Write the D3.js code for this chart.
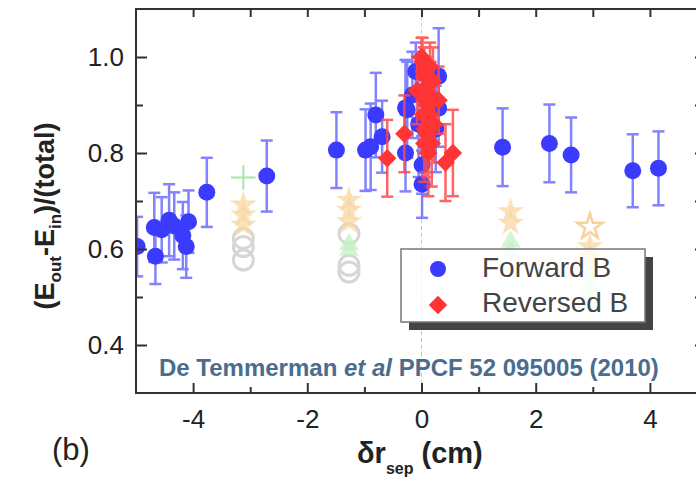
<!DOCTYPE html>
<html>
<head>
<meta charset="utf-8">
<script src="https://cdn.jsdelivr.net/npm/d3@7"></script>
<style>
  body { margin: 0; background: #fff; }
  svg { display: block; font-family: Arial, "Liberation Sans", sans-serif; }
</style>
</head>
<body>
<svg id="chart" width="696" height="484"></svg>
<script>
// forward B: [x, y, error]
const forwardB = [
  [-4.98, 0.605, 0.062], [-4.68, 0.645, 0.072], [-4.66, 0.585, 0.058],
  [-4.55, 0.64, 0.068], [-4.42, 0.66, 0.075], [-4.33, 0.648, 0.07],
  [-4.18, 0.628, 0.07], [-4.12, 0.605, 0.065], [-4.08, 0.657, 0.065],
  [-3.76, 0.718, 0.072], [-2.71, 0.752, 0.074], [-1.49, 0.806, 0.079],
  [-0.98, 0.806, 0.085], [-0.89, 0.813, 0.09], [-0.80, 0.879, 0.088], [-0.69, 0.834, 0.075],
  [-0.28, 0.894, 0.10], [-0.25, 0.89, 0.10], [-0.16, 0.921, 0.09], [-0.28, 0.80, 0.08],
  [-0.05, 0.86, 0.11], [-0.10, 0.97, 0.06], [0.01, 0.775, 0.06], [0.01, 0.735, 0.07],
  [0.30, 0.96, 0.10], [0.30, 0.893, 0.08], [0.25, 0.85, 0.09],
  [1.42, 0.812, 0.081], [2.24, 0.820, 0.081], [2.62, 0.796, 0.078],
  [3.70, 0.763, 0.076], [4.15, 0.768, 0.077]
];
// reversed B: [x, y, error]
const reversedB = [
  [-0.60, 0.789, 0.080], [-0.30, 0.84, 0.08], [0.02, 0.99, 0.05], [0.05, 0.96, 0.06],
  [0.08, 0.93, 0.07], [0.10, 0.90, 0.08], [0.12, 0.87, 0.08], [0.06, 0.85, 0.09],
  [0.15, 0.98, 0.05], [0.18, 0.82, 0.09], [0.20, 0.95, 0.07], [0.30, 0.91, 0.07],
  [0.00, 1.00, 0.04], [0.04, 0.97, 0.05], [0.10, 0.94, 0.06], [0.07, 0.91, 0.07],
  [0.14, 0.88, 0.08], [0.09, 0.84, 0.09], [0.05, 0.82, 0.08], [0.12, 0.80, 0.09],
  [0.16, 0.92, 0.07], [0.03, 0.88, 0.08], [-0.08, 0.93, 0.07], [0.22, 0.86, 0.08],
  [0.42, 0.78, 0.08], [0.55, 0.80, 0.09]
];
// faded background series
const ghostCircles = [[-3.12, 0.622], [-3.12, 0.605], [-3.12, 0.577], [-1.27, 0.632], [-1.27, 0.566], [-1.27, 0.552]];
const ghostStars = [[-3.12, 0.692], [-3.12, 0.671], [-3.12, 0.65], [-1.27, 0.702], [-1.27, 0.681], [-1.27, 0.657],
  [1.56, 0.678], [1.56, 0.654], [2.95, 0.605], [2.95, 0.584]];
const ghostOpenStars = [[2.95, 0.646]];
const ghostPlus = [[-3.12, 0.749]];
const ghostGreen = [[-1.27, 0.61], [-1.27, 0.598], [1.56, 0.615], [1.56, 0.595], [2.95, 0.545], [2.95, 0.52], [2.95, 0.49]];

const xMajor = [-4, -2, 0, 2, 4];
const xMinor = [-3, -1, 1, 3];
const yMajor = [0.4, 0.6, 0.8, 1.0];
const yMinor = [0.5, 0.7, 0.9];
const legendItems = ['Forward B', 'Reversed B'];

(function () {
  const svg = d3.select('#chart');
  const left = 136, right = 707, plotTop = 9, bottom = 393;

  const x = d3.scaleLinear().domain([-5, 5]).range([left, right]);
  const y = d3.scaleLinear().domain([0.3, 1.1]).range([bottom, plotTop]);

  const BLUE = '#3b3bff';
  const RED = '#ff3535';

  svg.append('defs').append('clipPath').attr('id', 'plotClip')
    .append('rect').attr('x', left).attr('y', plotTop).attr('width', right - left).attr('height', bottom - plotTop);

  const plot = svg.append('g').attr('clip-path', 'url(#plotClip)');

  // zero line
  plot.append('line')
    .attr('x1', x(0)).attr('x2', x(0)).attr('y1', plotTop).attr('y2', bottom)
    .attr('stroke', '#c8c8c8').attr('stroke-width', 1).attr('stroke-dasharray', '4,3');

  // ghost series
  plot.selectAll('.gc').data(ghostCircles).join('circle')
    .attr('cx', d => x(d[0])).attr('cy', d => y(d[1])).attr('r', 10)
    .attr('fill', 'none').attr('stroke', '#d6d6d6').attr('stroke-width', 3);
  const star = d3.symbol().type(d3.symbolStar).size(220);
  plot.selectAll('.gs').data(ghostStars).join('path')
    .attr('d', star).attr('transform', d => `translate(${x(d[0])},${y(d[1])})`)
    .attr('fill', '#f8d7a2').attr('opacity', 0.75);
  plot.selectAll('.gos').data(ghostOpenStars).join('path')
    .attr('d', d3.symbol().type(d3.symbolStar).size(200)).attr('transform', d => `translate(${x(d[0])},${y(d[1])})`)
    .attr('fill', 'none').attr('stroke', '#f6d39a').attr('stroke-width', 2.5);
  plot.selectAll('.gp').data(ghostPlus).join('path')
    .attr('d', d3.symbol().type(d3.symbolPlus).size(200)).attr('transform', d => `translate(${x(d[0])},${y(d[1])})`)
    .attr('fill', 'none').attr('stroke', '#a8e6a8').attr('stroke-width', 2);
  plot.selectAll('.gg').data(ghostGreen).join('path')
    .attr('d', d3.symbol().type(d3.symbolTriangle).size(170)).attr('transform', d => `translate(${x(d[0])},${y(d[1])})`)
    .attr('fill', '#c2efc2').attr('opacity', 0.7);

  function errorBars (data, color, opacity) {
    const g = plot.append('g').attr('stroke', color).attr('stroke-width', 2.5).attr('opacity', opacity);
    g.selectAll('line.v').data(data).join('line')
      .attr('x1', d => x(d[0])).attr('x2', d => x(d[0]))
      .attr('y1', d => y(d[1] - d[2])).attr('y2', d => y(d[1] + d[2]));
    [-1, 1].forEach(function (s) {
      g.selectAll('line.c' + (s + 1)).data(data).join('line')
        .attr('class', 'c' + (s + 1))
        .attr('x1', d => x(d[0]) - 6).attr('x2', d => x(d[0]) + 6)
        .attr('y1', d => y(d[1] + s * d[2])).attr('y2', d => y(d[1] + s * d[2]));
    });
  }

  errorBars(forwardB, '#5a5aff', 0.75);
  plot.selectAll('.fb').data(forwardB).join('circle')
    .attr('cx', d => x(d[0])).attr('cy', d => y(d[1])).attr('r', 8.5)
    .attr('fill', BLUE);

  errorBars(reversedB, '#ff4a4a', 0.85);
  const diamond = d3.symbol().type(d3.symbolSquare).size(170);
  plot.selectAll('.rb').data(reversedB).join('path')
    .attr('d', diamond)
    .attr('transform', d => `translate(${x(d[0])},${y(d[1])}) rotate(45)`)
    .attr('fill', RED);

  // axes
  const axisColor = '#333';
  function styleAxis (g) {
    g.select('.domain').remove();
    g.selectAll('.tick line').attr('stroke', axisColor).attr('stroke-width', 2);
    g.selectAll('.tick text').attr('fill', '#222').style('font-size', '26px');
  }
  svg.append('g').attr('transform', `translate(${left},0)`)
    .call(d3.axisLeft(y).tickValues(yMajor).tickSizeInner(-11).tickSizeOuter(0).tickPadding(12).tickFormat(d3.format('.1f')))
    .call(styleAxis);
  svg.append('g').attr('transform', `translate(${left},0)`)
    .call(d3.axisLeft(y).tickValues(yMinor).tickSize(-7).tickFormat(''))
    .call(styleAxis);
  svg.append('g').attr('transform', `translate(${right},0)`)
    .call(d3.axisRight(y).tickValues(yMajor.concat(yMinor)).tickSize(-12).tickFormat(''))
    .call(styleAxis);
  svg.append('g').attr('transform', `translate(0,${bottom})`)
    .call(d3.axisBottom(x).tickValues(xMajor).tickSizeInner(-10).tickSizeOuter(0).tickPadding(17).tickFormat(d => String(d)))
    .call(styleAxis);
  svg.append('g').attr('transform', `translate(0,${bottom})`)
    .call(d3.axisBottom(x).tickValues(xMinor).tickSize(-6).tickFormat(''))
    .call(styleAxis);
  svg.append('g').attr('transform', `translate(0,${plotTop})`)
    .call(d3.axisTop(x).tickValues(xMajor.concat(xMinor)).tickSize(-8).tickFormat(''))
    .call(styleAxis);

  // frame
  svg.append('path')
    .attr('d', `M${right},${plotTop}H${left}V${bottom}H${right}`)
    .attr('fill', 'none').attr('stroke', axisColor).attr('stroke-width', 2);

  // legend
  const lw = 244, lh = 73, sh = 8;
  const lg = svg.append('g').attr('transform', 'translate(401,249)');
  lg.append('path')
    .attr('d', `M${lw},${sh}H${lw + sh}V${lh + sh}H${sh}V${lh}H${lw}Z`)
    .attr('fill', '#444');
  lg.append('rect').attr('width', lw).attr('height', lh)
    .attr('fill', '#fff').attr('fill-opacity', 0.8).attr('stroke', '#777').attr('stroke-width', 1.5);
  lg.append('circle').attr('cx', 37).attr('cy', 20).attr('r', 8).attr('fill', BLUE);
  lg.append('path').attr('d', diamond).attr('transform', 'translate(37,56) rotate(45)').attr('fill', RED);
  lg.selectAll('text').data(legendItems).join('text')
    .attr('x', 81).attr('y', (d, i) => 28 + i * 35)
    .attr('fill', '#444').style('font-size', '28px')
    .text(d => d);

  // citation
  const cite = svg.append('text').attr('x', 159).attr('y', 376)
    .attr('fill', '#4a6d8f').style('font-size', '24px').style('font-weight', 'bold');
  cite.append('tspan').text('De Temmerman ');
  cite.append('tspan').style('font-style', 'italic').text('et al');
  cite.append('tspan').text(' PPCF 52 095005 (2010)');

  // axis titles
  const yt = svg.append('text')
    .attr('transform', 'translate(54,216) rotate(-90)')
    .attr('text-anchor', 'middle').attr('fill', '#222')
    .style('font-size', '27px').style('font-weight', 'bold');
  yt.append('tspan').text('(E');
  yt.append('tspan').attr('dy', 7).style('font-size', '17px').text('out');
  yt.append('tspan').attr('dy', -7).text('-E');
  yt.append('tspan').attr('dy', 7).style('font-size', '17px').text('in');
  yt.append('tspan').attr('dy', -7).text(')/(total)');

  const xt = svg.append('text').attr('x', 357).attr('y', 463)
    .attr('fill', '#222').style('font-size', '29px').style('font-weight', 'bold');
  xt.append('tspan').text('δr');
  xt.append('tspan').attr('dy', 11).style('font-size', '16px').text('sep');
  xt.append('tspan').attr('dy', -11).text(' (cm)');

  svg.append('text').attr('x', 52).attr('y', 460)
    .attr('fill', '#222').style('font-size', '31px').text('(b)');
})();
</script>
</body>
</html>
